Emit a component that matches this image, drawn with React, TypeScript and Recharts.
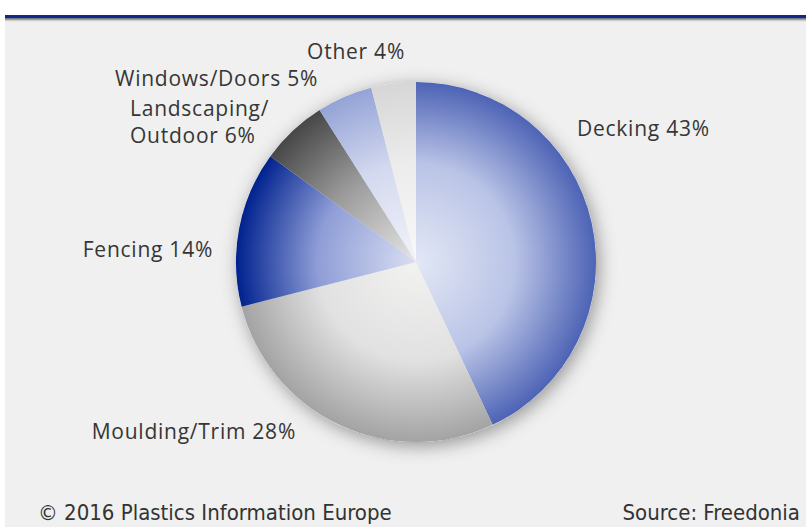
import React from 'react';
import { PieChart, Pie, Cell } from 'recharts';

// ---- data ----
const categories = ['Decking', 'Moulding/Trim', 'Fencing', 'Landscaping/\nOutdoor', 'Windows/Doors', 'Other'];
const shares = [43, 28, 14, 6, 5, 4];

// gradient colours per slice: [centre, middle, rim]
const sliceColors: string[][] = [
  ['#e3e8f5', '#b9c3e6', '#4d63b5'],
  ['#f2f2f1', '#e0e1e0', '#a3a3a3'],
  ['#d9def2', '#8e9dd6', '#00228f'],
  ['#e6e6e6', '#9b9b9b', '#474747'],
  ['#f2f3fa', '#d3d9ef', '#94a3d6'],
  ['#f8f8f8', '#ececec', '#d6d6d6'],
];

const data = categories.map((name, i) => ({ name, value: shares[i] }));

const W = 806;
const H = 527;
const CX = 416;
const CY = 262;
const R = 180;

// label placement relative to the pie centre (dx, dy of the first line centre, anchor)
const labelLayout: Record<string, { dx: number; dy: number; anchor: 'start' | 'end' }> = {
  Decking: { dx: 161, dy: -133, anchor: 'start' },
  'Moulding/Trim': { dx: -120, dy: 170, anchor: 'end' },
  Fencing: { dx: -203, dy: -12, anchor: 'end' },
  'Landscaping/\nOutdoor': { dx: -286, dy: -153, anchor: 'start' },
  'Windows/Doors': { dx: -98, dy: -183, anchor: 'end' },
  Other: { dx: -11, dy: -210, anchor: 'end' },
};

const renderLabel = (props: any) => {
  const { cx, cy, name, value } = props;
  const lay = labelLayout[name];
  if (!lay) return null;
  const lines = String(name).split('\n');
  lines[lines.length - 1] = `${lines[lines.length - 1]} ${value}%`;
  const x = cx + lay.dx;
  const y = cy + lay.dy;
  return (
    <text
      x={x}
      y={y}
      textAnchor={lay.anchor}
      fill="#363636"
      fontFamily="'Open Sans', 'DejaVu Sans', sans-serif"
      fontSize={21}
      letterSpacing={0.75}
    >
      {lines.map((l, i) => (
        <tspan key={i} x={x} y={y + i * 27} dy="0.35em">
          {l}
        </tspan>
      ))}
    </text>
  );
};

export default function App() {
  return (
    <div
      style={{
        position: 'fixed',
        left: 0,
        top: 0,
        width: W,
        height: H,
        background: '#ffffff',
        overflow: 'hidden',
      }}
    >
      <div
        style={{
          position: 'absolute',
          left: 5,
          top: 15,
          width: W - 5,
          height: H - 15,
          background: '#eff0ef',
        }}
      />
      <div
        style={{
          position: 'absolute',
          left: 5,
          top: 15,
          width: W - 5,
          height: 7,
          background:
            'linear-gradient(to bottom, #0b2a8c 0px, #0b2a8c 2.5px, #6a6a72 3px, #9a9a9e 4.5px, #cfd0d0 5.5px, #eff0ef 7px)',
        }}
      />
      <svg width={0} height={0} style={{ position: 'absolute' }}>
        <defs>
          {sliceColors.map((c, i) => (
            <radialGradient
              key={i}
              id={`slice${i}`}
              gradientUnits="userSpaceOnUse"
              cx={CX}
              cy={CY}
              r={R}
            >
              <stop offset="0%" stopColor={c[0]} />
              <stop offset="55%" stopColor={c[1]} />
              <stop offset="100%" stopColor={c[2]} />
            </radialGradient>
          ))}
          <filter id="pieShadow" x="-20%" y="-20%" width="140%" height="140%">
            <feDropShadow dx="3" dy="4" stdDeviation="9" floodColor="#000" floodOpacity="0.38" />
          </filter>
        </defs>
      </svg>
      <div style={{ position: 'absolute', left: 0, top: 0 }}>
        <PieChart width={W} height={H} margin={{ top: 0, right: 0, bottom: 0, left: 0 }}>
          <Pie
            data={[{ name: 'all', value: 100 }]}
            dataKey="value"
            cx={CX}
            cy={CY}
            outerRadius={R}
            startAngle={90}
            endAngle={-270}
            stroke="none"
            isAnimationActive={false}
            label={false}
            labelLine={false}
          >
            <Cell fill="#e8e8e8" filter="url(#pieShadow)" />
          </Pie>
          <Pie
            data={data}
            dataKey="value"
            nameKey="name"
            cx={CX}
            cy={CY}
            outerRadius={R}
            startAngle={90}
            endAngle={-270}
            stroke="none"
            isAnimationActive={false}
            label={renderLabel}
            labelLine={false}
          >
            {data.map((d, i) => (
              <Cell key={d.name} fill={`url(#slice${i})`} />
            ))}
          </Pie>
        </PieChart>
      </div>
      <div
        style={{
          position: 'absolute',
          left: 38,
          top: 499,
          fontFamily: "'Liberation Sans Narrow', 'DejaVu Sans Condensed', sans-serif",
          fontSize: 22,
          color: '#333',
          whiteSpace: 'nowrap',
          lineHeight: '28px',
        }}
      >
        © 2016 Plastics Information Europe
      </div>
      <div
        style={{
          position: 'absolute',
          right: 6,
          top: 499,
          fontFamily: "'Liberation Sans Narrow', 'DejaVu Sans Condensed', sans-serif",
          fontSize: 22,
          color: '#333',
          whiteSpace: 'nowrap',
          lineHeight: '28px',
        }}
      >
        Source: Freedonia
      </div>
    </div>
  );
}
